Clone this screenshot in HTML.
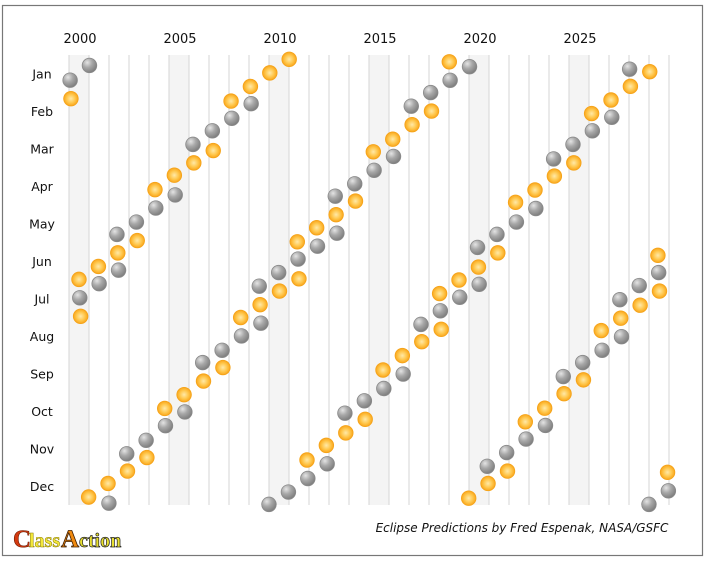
<!DOCTYPE html>
<html><head><meta charset="utf-8"><style>
html,body{margin:0;padding:0;background:#fff;}
body{width:707px;height:561px;overflow:hidden;}
</style></head><body>
<svg id="chart" width="707" height="561" xmlns="http://www.w3.org/2000/svg" font-family="'DejaVu Sans','Liberation Sans',sans-serif">
<defs>
<radialGradient id="gGray" cx="0.35" cy="0.3" r="0.75">
<stop offset="0" stop-color="#e4e4e4"/><stop offset="0.45" stop-color="#a8a8a8"/><stop offset="1" stop-color="#7a7a7a"/>
</radialGradient>
<radialGradient id="gOrange" cx="0.5" cy="0.5" r="0.5">
<stop offset="0" stop-color="#ffe9a8"/><stop offset="0.6" stop-color="#ffc64a"/><stop offset="1" stop-color="#f9a51c"/>
</radialGradient>
</defs>
<rect x="2.5" y="5.5" width="700" height="550" fill="#fff" stroke="#777" stroke-width="1.2"/>
<g id="bands"></g><g id="grid"></g><g id="labels"></g><g id="marks"></g>
<text x="522" y="532" text-anchor="middle" font-size="12" font-style="italic" fill="#111">Eclipse Predictions by Fred Espenak, NASA/GSFC</text>
<g font-family="'Liberation Serif',serif" font-size="25" font-weight="bold">
<text x="13" y="547" fill="#d33a10" stroke="#6a1a00" stroke-width="0.6">C</text>
<text x="29" y="547" fill="#f3e83a" stroke="#8a7a00" stroke-width="0.5" font-size="20">lass</text>
<text x="61" y="547" fill="#f08a10" stroke="#3a1a00" stroke-width="0.8">A</text>
<text x="79" y="547" fill="#e8e030" stroke="#222" stroke-width="0.7" font-size="20">ction</text>
</g>
</svg>
<script>
const years=[2000,2001,2002,2003,2004,2005,2006,2007,2008,2009,2010,2011,2012,2013,2014,2015,2016,2017,2018,2019,2020,2021,2022,2023,2024,2025,2026,2027,2028,2029];
const yearTicks=[2000,2005,2010,2015,2020,2025];
const months=["Jan","Feb","Mar","Apr","May","Jun","Jul","Aug","Sep","Oct","Nov","Dec"];
const solarDates=["2000-02-05","2000-07-01","2000-07-31","2000-12-25","2001-06-21","2001-12-14","2002-06-10","2002-12-04","2003-05-31","2003-11-23","2004-04-19","2004-10-14","2005-04-08","2005-10-03","2006-03-29","2006-09-22","2007-03-19","2007-09-11","2008-02-07","2008-08-01","2009-01-26","2009-07-22","2010-01-15","2010-07-11","2011-01-04","2011-06-01","2011-07-01","2011-11-25","2012-05-20","2012-11-13","2013-05-10","2013-11-03","2014-04-29","2014-10-23","2015-03-20","2015-09-13","2016-03-09","2016-09-01","2017-02-26","2017-08-21","2018-02-15","2018-07-13","2018-08-11","2019-01-06","2019-07-02","2019-12-26","2020-06-21","2020-12-14","2021-06-10","2021-12-04","2022-04-30","2022-10-25","2023-04-20","2023-10-14","2024-04-08","2024-10-02","2025-03-29","2025-09-21","2026-02-17","2026-08-12","2027-02-06","2027-08-02","2028-01-26","2028-07-22","2029-01-14","2029-06-12","2029-07-11","2029-12-05"];
const lunarDates=["2000-01-21","2000-07-16","2001-01-09","2001-07-05","2001-12-30","2002-05-26","2002-06-24","2002-11-20","2003-05-16","2003-11-09","2004-05-04","2004-10-28","2005-04-24","2005-10-17","2006-03-14","2006-09-07","2007-03-03","2007-08-28","2008-02-21","2008-08-16","2009-02-09","2009-07-07","2009-08-06","2009-12-31","2010-06-26","2010-12-21","2011-06-15","2011-12-10","2012-06-04","2012-11-28","2013-04-25","2013-05-25","2013-10-18","2014-04-15","2014-10-08","2015-04-04","2015-09-28","2016-03-23","2016-09-16","2017-02-11","2017-08-07","2018-01-31","2018-07-27","2019-01-21","2019-07-16","2020-01-10","2020-06-05","2020-07-05","2020-11-30","2021-05-26","2021-11-19","2022-05-16","2022-11-08","2023-05-05","2023-10-28","2024-03-25","2024-09-18","2025-03-14","2025-09-07","2026-03-03","2026-08-28","2027-02-20","2027-07-18","2027-08-17","2028-01-12","2028-07-06","2028-12-31","2029-06-26","2029-12-20"];

const NS="http://www.w3.org/2000/svg";
const X0=69, YW=20, Y0=55, YH=450;
function xScale(yf){return X0+(yf-years[0])*YW;}
function yScale(frac){return Y0+frac*YH;}
function parse(d){const [y,m,dd]=d.split("-").map(Number);const s=Date.UTC(y,0,1),e=Date.UTC(y+1,0,1);const t=Date.UTC(y,m-1,dd);const f=(t-s)/(e-s)+0.5/365;return {y,f};}
function mk(tag,attrs,parent){const el=document.createElementNS(NS,tag);for(const k in attrs)el.setAttribute(k,attrs[k]);parent.appendChild(el);return el;}

const bands=document.getElementById("bands"),grid=document.getElementById("grid"),labels=document.getElementById("labels"),marks=document.getElementById("marks");
yearTicks.forEach(yr=>{
 const b=mk("rect",{x:xScale(yr),y:Y0,width:YW,height:YH,fill:"#f4f4f4"},bands);
 
 
 const t=mk("text",{x:xScale(yr)+11,y:43,"text-anchor":"middle","font-size":"13",fill:"#111"},labels);
 t.textContent=yr;
 
 
});
for(let i=0;i<=years.length;i++){
 const l=mk("line",{x1:X0+i*YW,x2:X0+i*YW,y1:Y0,y2:Y0+YH,stroke:"#d6d6d6","stroke-width":"1"},grid);
 
 
}
months.forEach((m,i)=>{
 const t=mk("text",{x:42,y:yScale((i+0.5)/12)+4.5,"text-anchor":"middle","font-size":"12.5",fill:"#111"},labels);
 t.textContent=m;
 
 
});
function drawSet(dates,fill,stroke,name){
 dates.forEach(d=>{
  const p=parse(d);
  const c=mk("circle",{cx:xScale(p.y+p.f),cy:yScale(p.f),r:7.3,fill:fill,stroke:stroke,"stroke-width":"0.8"},marks);
  
  
 });
}
drawSet(lunarDates,"url(#gGray)","#8a8a8a","lunar-eclipse-point");
drawSet(solarDates,"url(#gOrange)","#f5a318","solar-eclipse-point");
</script>
</body></html>
